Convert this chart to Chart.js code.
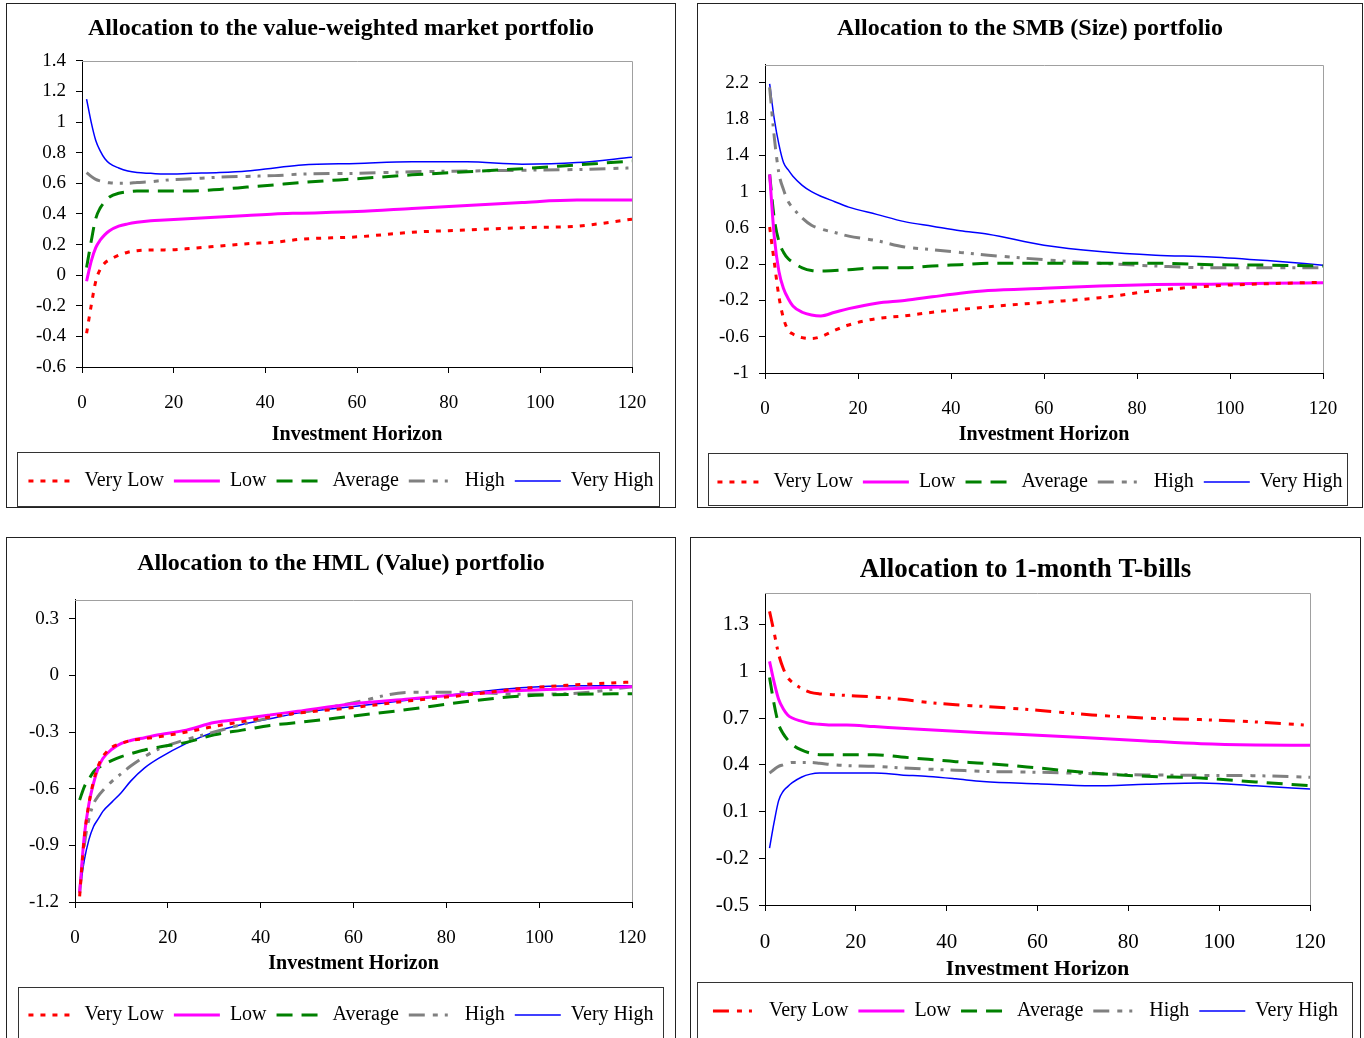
<!DOCTYPE html>
<html lang="en">
<head>
<meta charset="UTF-8">
<title>Allocations by investment horizon</title>
<script src="https://cdn.jsdelivr.net/npm/chart.js"></script>
<style>
  body { margin: 0; width: 1364px; height: 1038px; overflow: hidden; background: #fff; position: relative; }
  .panel { position: absolute; border: 1px solid #222; overflow: hidden; background: #fff; }
  .panel canvas { display: block; }
</style>
</head>
<body>

<div class="panel" style="left:6px;top:3px;width:668px;height:503px"><canvas id="mkt" width="668" height="503"></canvas></div>
<div class="panel" style="left:697px;top:3px;width:664px;height:503px"><canvas id="smb" width="664" height="503"></canvas></div>
<div class="panel" style="left:6px;top:537px;width:668px;height:510px"><canvas id="hml" width="668" height="500"></canvas></div>
<div class="panel" style="left:690px;top:537px;width:669px;height:510px"><canvas id="tb" width="669" height="500"></canvas></div>

<script>
// horizons (months) and series
const horizons = [1, 2, 3, 4, 5, 6, 8, 10, 12, 15, 18, 24, 30, 36, 42, 48, 60, 72, 84, 96, 108, 120];
const seriesNames = ['Very Low', 'Low', 'Average', 'High', 'Very High'];
const xTicks = [0, 20, 40, 60, 80, 100, 120];

const mktVeryLow  = [-0.38, -0.20, -0.04, 0.04, 0.08, 0.10, 0.13, 0.15, 0.16, 0.165, 0.165, 0.175, 0.19, 0.205, 0.215, 0.235, 0.25, 0.28, 0.295, 0.31, 0.32, 0.365];
const mktLow      = [-0.04, 0.09, 0.18, 0.23, 0.265, 0.29, 0.32, 0.335, 0.345, 0.355, 0.36, 0.37, 0.38, 0.39, 0.40, 0.405, 0.415, 0.435, 0.455, 0.475, 0.49, 0.49];
const mktAverage  = [0.05, 0.22, 0.37, 0.44, 0.48, 0.51, 0.535, 0.545, 0.55, 0.55, 0.55, 0.55, 0.56, 0.575, 0.59, 0.605, 0.63, 0.655, 0.675, 0.695, 0.72, 0.745];
const mktHigh     = [0.67, 0.645, 0.625, 0.615, 0.607, 0.603, 0.60, 0.60, 0.605, 0.61, 0.62, 0.63, 0.64, 0.645, 0.65, 0.66, 0.665, 0.675, 0.68, 0.685, 0.69, 0.70];
const mktVeryHigh = [1.15, 1.00, 0.88, 0.81, 0.76, 0.73, 0.70, 0.68, 0.67, 0.665, 0.66, 0.665, 0.67, 0.68, 0.70, 0.72, 0.73, 0.74, 0.74, 0.725, 0.735, 0.77];
const mktTicks = [-0.6, -0.4, -0.2, 0, 0.2, 0.4, 0.6, 0.8, 1, 1.2, 1.4];

const smbVeryLow  = [0.61, 0.22, -0.16, -0.40, -0.53, -0.57, -0.61, -0.62, -0.60, -0.53, -0.47, -0.40, -0.37, -0.33, -0.30, -0.27, -0.22, -0.17, -0.09, -0.04, -0.015, 0.0];
const smbLow      = [1.19, 0.50, 0.12, -0.07, -0.18, -0.26, -0.33, -0.36, -0.37, -0.33, -0.29, -0.23, -0.20, -0.16, -0.12, -0.09, -0.065, -0.04, -0.025, -0.02, -0.01, -0.005];
const smbAverage  = [1.19, 0.70, 0.45, 0.33, 0.26, 0.22, 0.16, 0.13, 0.125, 0.13, 0.14, 0.16, 0.16, 0.18, 0.195, 0.21, 0.21, 0.21, 0.21, 0.195, 0.19, 0.18];
const smbHigh     = [2.15, 1.60, 1.20, 1.02, 0.89, 0.82, 0.71, 0.63, 0.59, 0.55, 0.51, 0.46, 0.39, 0.36, 0.33, 0.30, 0.25, 0.21, 0.18, 0.16, 0.16, 0.16];
const smbVeryHigh = [2.19, 1.80, 1.52, 1.32, 1.24, 1.17, 1.07, 1.00, 0.95, 0.89, 0.83, 0.75, 0.67, 0.62, 0.57, 0.53, 0.41, 0.34, 0.30, 0.28, 0.24, 0.19];
const smbTicks = [-1, -0.6, -0.2, 0.2, 0.6, 1, 1.4, 1.8, 2.2];

const hmlVeryLow  = [-1.17, -0.86, -0.68, -0.56, -0.48, -0.43, -0.38, -0.36, -0.345, -0.335, -0.325, -0.30, -0.27, -0.245, -0.22, -0.20, -0.17, -0.135, -0.105, -0.07, -0.05, -0.035];
const hmlLow      = [-1.15, -0.85, -0.68, -0.57, -0.49, -0.44, -0.39, -0.36, -0.345, -0.33, -0.315, -0.29, -0.25, -0.23, -0.21, -0.19, -0.15, -0.125, -0.10, -0.08, -0.07, -0.06];
const hmlAverage  = [-0.66, -0.59, -0.55, -0.51, -0.49, -0.475, -0.45, -0.43, -0.415, -0.395, -0.38, -0.355, -0.315, -0.29, -0.265, -0.25, -0.215, -0.18, -0.14, -0.11, -0.10, -0.097];
const hmlHigh     = [-1.15, -0.90, -0.76, -0.68, -0.64, -0.61, -0.56, -0.52, -0.48, -0.43, -0.39, -0.34, -0.30, -0.26, -0.225, -0.20, -0.145, -0.09, -0.09, -0.10, -0.095, -0.06];
const hmlVeryHigh = [-1.15, -0.98, -0.87, -0.80, -0.76, -0.72, -0.67, -0.62, -0.56, -0.49, -0.44, -0.36, -0.30, -0.26, -0.23, -0.20, -0.165, -0.13, -0.095, -0.065, -0.055, -0.055];
const hmlTicks = [-1.2, -0.9, -0.6, -0.3, 0, 0.3];

const tbVeryLow  = [1.385, 1.25, 1.11, 1.02, 0.96, 0.93, 0.89, 0.865, 0.855, 0.85, 0.845, 0.835, 0.82, 0.80, 0.785, 0.775, 0.75, 0.72, 0.70, 0.69, 0.675, 0.653];
const tbLow      = [1.064, 0.93, 0.82, 0.76, 0.72, 0.70, 0.68, 0.665, 0.66, 0.655, 0.655, 0.645, 0.635, 0.625, 0.615, 0.605, 0.59, 0.572, 0.553, 0.535, 0.527, 0.525];
const tbAverage  = [0.96, 0.79, 0.66, 0.60, 0.56, 0.53, 0.495, 0.475, 0.465, 0.465, 0.465, 0.465, 0.45, 0.435, 0.42, 0.41, 0.38, 0.347, 0.326, 0.315, 0.29, 0.266];
const tbHigh     = [0.347, 0.37, 0.39, 0.40, 0.41, 0.415, 0.415, 0.415, 0.41, 0.40, 0.395, 0.39, 0.38, 0.372, 0.365, 0.358, 0.352, 0.343, 0.335, 0.332, 0.33, 0.32];
const tbVeryHigh = [-0.135, 0.03, 0.17, 0.23, 0.26, 0.285, 0.32, 0.34, 0.347, 0.347, 0.347, 0.347, 0.335, 0.325, 0.31, 0.293, 0.278, 0.265, 0.275, 0.283, 0.265, 0.244];
const tbTicks = [-0.5, -0.2, 0.1, 0.4, 0.7, 1, 1.3];

Chart.defaults.font.family = "'Liberation Serif', 'Times New Roman', serif";
Chart.defaults.color = '#000';

const lineStyles = [
    { color: '#ff0000', width: 3, dash: [5, 7] },
    { color: '#ff00ff', width: 3, dash: [] },
    { color: '#008000', width: 3, dash: [16, 9] },
    { color: '#808080', width: 3, dash: [16, 8, 5, 7, 3, 7] },
    { color: '#0000ff', width: 1.5, dash: [] }
];

// grey top and right edge of the plot area
const plotFrame = {
    id: 'plotFrame',
    beforeDatasetsDraw(chart) {
        const a = chart.chartArea, ctx = chart.ctx;
        ctx.save();
        ctx.strokeStyle = '#a0a0a0';
        ctx.lineWidth = 1;
        ctx.beginPath();
        ctx.moveTo(a.left, Math.round(a.top) + 0.5);
        ctx.lineTo(Math.round(a.right) + 0.5, Math.round(a.top) + 0.5);
        ctx.lineTo(Math.round(a.right) + 0.5, a.bottom);
        ctx.stroke();
        ctx.restore();
    }
};

// box round the legend
const legendFrame = {
    id: 'legendFrame',
    afterDraw(chart, args, opts) {
        const b = opts.box, ctx = chart.ctx;
        ctx.save();
        ctx.strokeStyle = '#333';
        ctx.lineWidth = 1;
        ctx.strokeRect(b[0] + 0.5, b[1] + 0.5, b[2] - b[0], b[3] - b[1]);
        ctx.restore();
    }
};

// legend samples drawn with the line's own dash and width
function lineLabels(chart) {
    const items = Chart.defaults.plugins.legend.labels.generateLabels(chart);
    items.forEach(function (it) {
        const ds = chart.data.datasets[it.datasetIndex];
        it.lineDash = ds.borderDash;
        it.lineWidth = ds.borderWidth;
        it.strokeStyle = ds.borderColor;
        it.pointStyle = 'line';
    });
    return items;
}

function makeChart(id, p, values, yTicks, veryLowDash) {
    const datasets = seriesNames.map(function (name, i) {
        const st = lineStyles[i];
        return {
            label: name,
            data: horizons.map((h, k) => ({ x: h, y: values[i][k] })),
            borderColor: st.color,
            backgroundColor: st.color,
            borderWidth: st.width,
            borderDash: (i === 0 && veryLowDash) ? veryLowDash : st.dash,
            pointRadius: 0,
            pointHoverRadius: 0,
            fill: false,
            cubicInterpolationMode: 'monotone'
        };
    });

    return new Chart(document.getElementById(id), {
        type: 'line',
        data: { datasets: datasets },
        plugins: [plotFrame, legendFrame],
        options: {
            responsive: false,
            animation: false,
            events: [],
            layout: { padding: { left: 0, right: 0, top: 0, bottom: p.padBottom } },
            plugins: {
                title: {
                    display: true, text: p.title, color: '#000',
                    font: { size: p.titleSize, weight: 'bold' },
                    padding: { top: p.titleTop, bottom: p.titleBottom }
                },
                legend: {
                    position: 'bottom',
                    labels: {
                        usePointStyle: true, pointStyle: 'line', pointStyleWidth: 46,
                        padding: 10, color: '#000', font: { size: 20 },
                        generateLabels: lineLabels
                    },
                    title: { display: true, text: ' ', padding: 0, font: { size: p.legendGap, lineHeight: 1 } }
                },
                tooltip: { enabled: false },
                legendFrame: { box: p.legendBox }
            },
            scales: {
                x: {
                    type: 'linear', min: 0, max: 120,
                    afterBuildTicks: s => { s.ticks = xTicks.map(v => ({ value: v })); },
                    afterFit: s => { s.height = p.xAxisH; },
                    grid: { drawOnChartArea: false, drawTicks: true, tickLength: 6, tickColor: '#000' },
                    border: { display: true, color: '#000', width: 1 },
                    ticks: { padding: p.xTickPad, color: '#000', font: { size: p.tickSize }, maxRotation: 0, autoSkip: false, callback: v => String(v) },
                    title: {
                        display: true, text: 'Investment Horizon', color: '#000',
                        font: { size: p.axisTitleSize, weight: 'bold' },
                        padding: { top: 0, bottom: p.axisTitleBottom }
                    }
                },
                y: {
                    type: 'linear', min: yTicks[0], max: p.yMax,
                    afterBuildTicks: s => { s.ticks = yTicks.map(v => ({ value: v })); },
                    afterFit: s => { s.width = p.yAxisW; },
                    grid: { drawOnChartArea: false, drawTicks: true, tickLength: 6, tickColor: '#000' },
                    border: { display: true, color: '#000', width: 1 },
                    ticks: { padding: 10, color: '#000', font: { size: p.tickSize }, autoSkip: false, callback: v => String(v) }
                },
                yRight: {
                    position: 'right', display: true,
                    grid: { display: false }, border: { display: false }, ticks: { display: false },
                    afterFit: s => { s.width = p.rightW; }
                }
            }
        }
    });
}

makeChart('mkt', {
    title: 'Allocation to the value-weighted market portfolio', titleSize: 24, titleTop: 10, titleBottom: 18,
    yMax: 1.4, yAxisW: 75, rightW: 43, tickSize: 19, xTickPad: 19, xAxisH: 85,
    axisTitleSize: 20, axisTitleBottom: 5, legendGap: 9, padBottom: 6, legendBox: [10, 448, 652, 502]
}, [mktVeryLow, mktLow, mktAverage, mktHigh, mktVeryHigh], mktTicks);

makeChart('smb', {
    title: 'Allocation to the SMB (Size) portfolio', titleSize: 24, titleTop: 10, titleBottom: 22,
    yMax: 2.4, yAxisW: 67, rightW: 39, tickSize: 19, xTickPad: 19, xAxisH: 80,
    axisTitleSize: 20, axisTitleBottom: 6, legendGap: 9, padBottom: 5, legendBox: [10, 449, 649, 501]
}, [smbVeryLow, smbLow, smbAverage, smbHigh, smbVeryHigh], smbTicks);

makeChart('hml', {
    title: 'Allocation to the HML (Value) portfolio', titleSize: 24, titleTop: 11, titleBottom: 22,
    yMax: 0.4, yAxisW: 68, rightW: 43, tickSize: 19, xTickPad: 19, xAxisH: 85,
    axisTitleSize: 20, axisTitleBottom: 11, legendGap: 8, padBottom: 3, legendBox: [11, 449, 656, 520]
}, [hmlVeryLow, hmlLow, hmlAverage, hmlHigh, hmlVeryHigh], hmlTicks);

makeChart('tb', {
    title: 'Allocation to 1-month T-bills', titleSize: 27, titleTop: 16, titleBottom: 7,
    yMax: 1.5, yAxisW: 74, rightW: 50, tickSize: 21, xTickPad: 19, xAxisH: 77,
    axisTitleSize: 21.5, axisTitleBottom: 0, legendGap: 9, padBottom: 7, legendBox: [6, 444, 661, 520]
}, [tbVeryLow, tbLow, tbAverage, tbHigh, tbVeryHigh], tbTicks, [16, 8, 5, 7, 3, 7]);
</script>
</body>
</html>
